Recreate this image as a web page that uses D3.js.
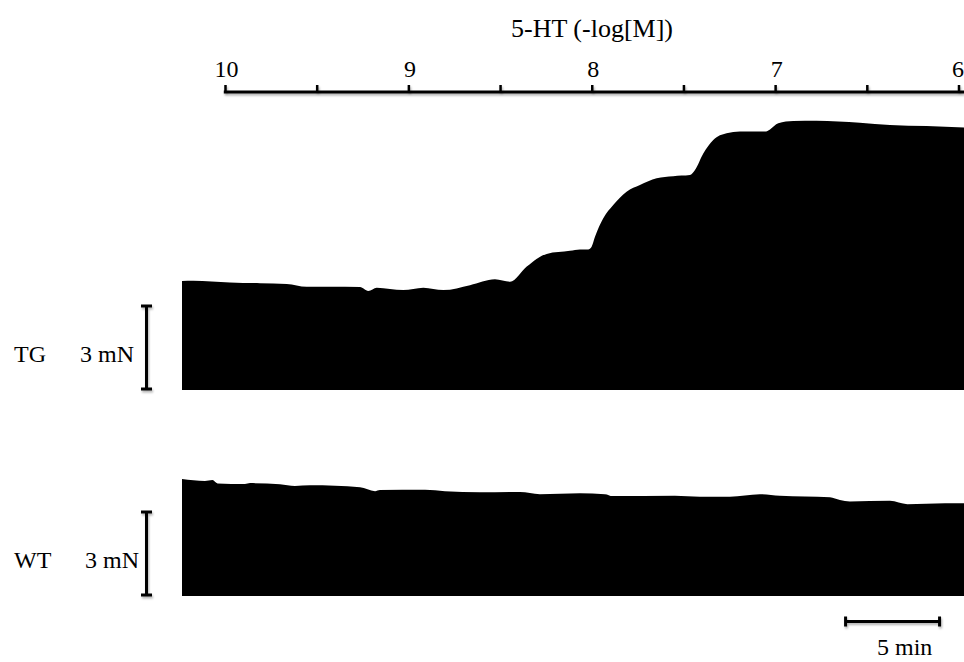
<!DOCTYPE html>
<html>
<head>
<meta charset="utf-8">
<script src="https://cdn.jsdelivr.net/npm/d3@7"></script>
<style>
  body { margin: 0; background: #fff; }
  svg { display: block; font-family: 'Liberation Serif', 'Times New Roman', serif; }
</style>
</head>
<body>
<svg id="chart" width="964" height="662"></svg>
<script>
// Concentration axis (-log[M]), ticks every half log unit
const logTicks = [10, 9.5, 9, 8.5, 8, 7.5, 7, 6.5, 6];
const logLabels = [10, 9, 8, 7, 6];

// TG trace: time (min) and tension (mN above cut baseline)
const tgTime = [0, 0.6, 2.55, 4.15, 5.57, 6.63, 7.87, 9.47, 9.91, 10.36, 11.77, 12.84, 13.9,
  15.32, 16.65, 17.45, 18.34, 19.4, 20.64, 21.17, 21.61, 21.79, 21.97, 22.41, 22.94, 23.65,
  24.36, 25.25, 26.13, 27.02, 27.29, 27.73, 28.26, 28.97, 29.68, 31.01, 31.28, 31.72, 32.52,
  33.76, 36.06, 37.66, 39.61, 41.6];
const tgTension = [3.94, 3.95, 3.89, 3.86, 3.83, 3.73, 3.73, 3.72, 3.58, 3.7, 3.61, 3.7, 3.61,
  3.79, 4.0, 3.91, 4.46, 4.92, 5.03, 5.08, 5.08, 5.18, 5.54, 6.21, 6.69, 7.17,
  7.41, 7.65, 7.73, 7.77, 7.95, 8.55, 9.04, 9.28, 9.34, 9.34, 9.42, 9.64, 9.72,
  9.73, 9.66, 9.58, 9.54, 9.49];

// WT trace
const wtTime = [0, 1.22, 1.62, 1.89, 3.35, 3.62, 5.21, 6.01, 6.81, 9.47, 10.27, 10.53, 12.93,
  13.99, 15.85, 17.98, 19.04, 21.17, 22.5, 22.9, 26.22, 27.55, 29.15, 30.74, 31.81, 34.47,
  35.0, 35.53, 37.66, 38.59, 40.59, 41.6];
const wtTension = [4.23, 4.16, 4.19, 4.07, 4.05, 4.08, 4.04, 3.98, 4.0, 3.93, 3.79, 3.83, 3.84,
  3.79, 3.75, 3.76, 3.68, 3.71, 3.68, 3.61, 3.62, 3.59, 3.59, 3.68, 3.62, 3.57,
  3.47, 3.42, 3.44, 3.32, 3.35, 3.35];

// scale bars
const forceBar = 3;     // mN
const timeBar = 5;      // min
const timeBarStart = 35.3;

const W = 964, H = 662;
const svg = d3.select('#chart');

// soft shadow under the drawn lines; big user-space region so thin or
// translated lines are never clipped by the filter box
const defs = svg.append('defs');
const shadow = defs.append('filter').attr('id', 'shadow')
  .attr('filterUnits', 'userSpaceOnUse')
  .attr('x', -W).attr('y', -H).attr('width', 3 * W).attr('height', 3 * H);
shadow.append('feDropShadow')
  .attr('dx', 1).attr('dy', 2).attr('stdDeviation', 1)
  .attr('flood-color', '#000').attr('flood-opacity', 0.3);

const xTime = d3.scaleLinear().domain([0, 41.6]).range([182, 964]);
const xLog = d3.scaleLinear().domain([10, 6]).range([225, 958.5]);

// Top concentration axis
svg.append('text')
  .attr('x', 592).attr('y', 37)
  .attr('text-anchor', 'middle')
  .style('font-size', '26px')
  .text('5-HT (-log[M])');

const axisY = 92;
const axis = svg.append('g')
  .attr('transform', `translate(0,${axisY})`)
  .call(d3.axisTop(xLog)
    .tickValues(logTicks)
    .tickSize(7)
    .tickSizeOuter(0)
    .tickPadding(8)
    .tickFormat(d => logLabels.includes(d) ? d : ''));
axis.select('.domain').remove();
axis.attr('font-family', null).attr('font-size', null);
axis.selectAll('.tick line').attr('stroke', '#000').attr('stroke-width', 2.5)
  .attr('filter', 'url(#shadow)');
axis.selectAll('.tick text').style('font-size', '24px').attr('fill', '#000')
  .attr('dx', d => d === 6 ? -1 : 1);
axis.insert('line', ':first-child')
  .attr('x1', xLog.range()[0] - 1.2).attr('x2', W)
  .attr('y1', 0).attr('y2', 0)
  .attr('stroke', '#000').attr('stroke-width', 3)
  .attr('filter', 'url(#shadow)');

function drawTrace(time, tension, bottom, label, labelEnd, barX) {
  const y = d3.scaleLinear().domain([0, forceBar]).range([bottom, bottom - 83]);
  const pts = time.map((t, i) => [t, tension[i]]);
  const area = d3.area()
    .x(d => xTime(d[0]))
    .y0(y(0))
    .y1(d => y(d[1]))
    .curve(d3.curveMonotoneX);
  svg.append('path').datum(pts)
    .attr('d', area)
    .attr('fill', '#000');

  // force scale bar
  const b = svg.append('g')
    .attr('stroke', '#000').attr('stroke-width', 3)
    .attr('filter', 'url(#shadow)');
  const y0 = y(0) - 1, y1 = y(forceBar) - 1;
  b.append('line').attr('x1', barX).attr('x2', barX).attr('y1', y0).attr('y2', y1);
  b.append('line').attr('x1', barX - 5.5).attr('x2', barX + 5.5).attr('y1', y0).attr('y2', y0);
  b.append('line').attr('x1', barX - 5.5).attr('x2', barX + 5.5).attr('y1', y1).attr('y2', y1);

  const ty = (y0 + y1) / 2 + 14;
  svg.append('text').attr('x', 14).attr('y', ty)
    .style('font-size', '24px').text(label);
  svg.append('text').attr('x', labelEnd).attr('y', ty)
    .attr('text-anchor', 'end')
    .style('font-size', '24px').text(`${forceBar} mN`);
}

drawTrace(tgTime, tgTension, 390, 'TG', 134, 146.5);
drawTrace(wtTime, wtTension, 596, 'WT', 139, 146.5);

// time scale bar
const tb = svg.append('g')
  .attr('stroke', '#000').attr('stroke-width', 3)
  .attr('filter', 'url(#shadow)');
const bx0 = xTime(timeBarStart), bx1 = xTime(timeBarStart + timeBar), by = 621.5;
tb.append('line').attr('x1', bx0).attr('x2', bx1).attr('y1', by).attr('y2', by);
tb.append('line').attr('x1', bx0).attr('x2', bx0).attr('y1', by - 5).attr('y2', by + 5);
tb.append('line').attr('x1', bx1).attr('x2', bx1).attr('y1', by - 5).attr('y2', by + 5);
svg.append('text')
  .attr('x', 877).attr('y', 655)
  .style('font-size', '24px')
  .text(`${timeBar} min`);
</script>
</body>
</html>
